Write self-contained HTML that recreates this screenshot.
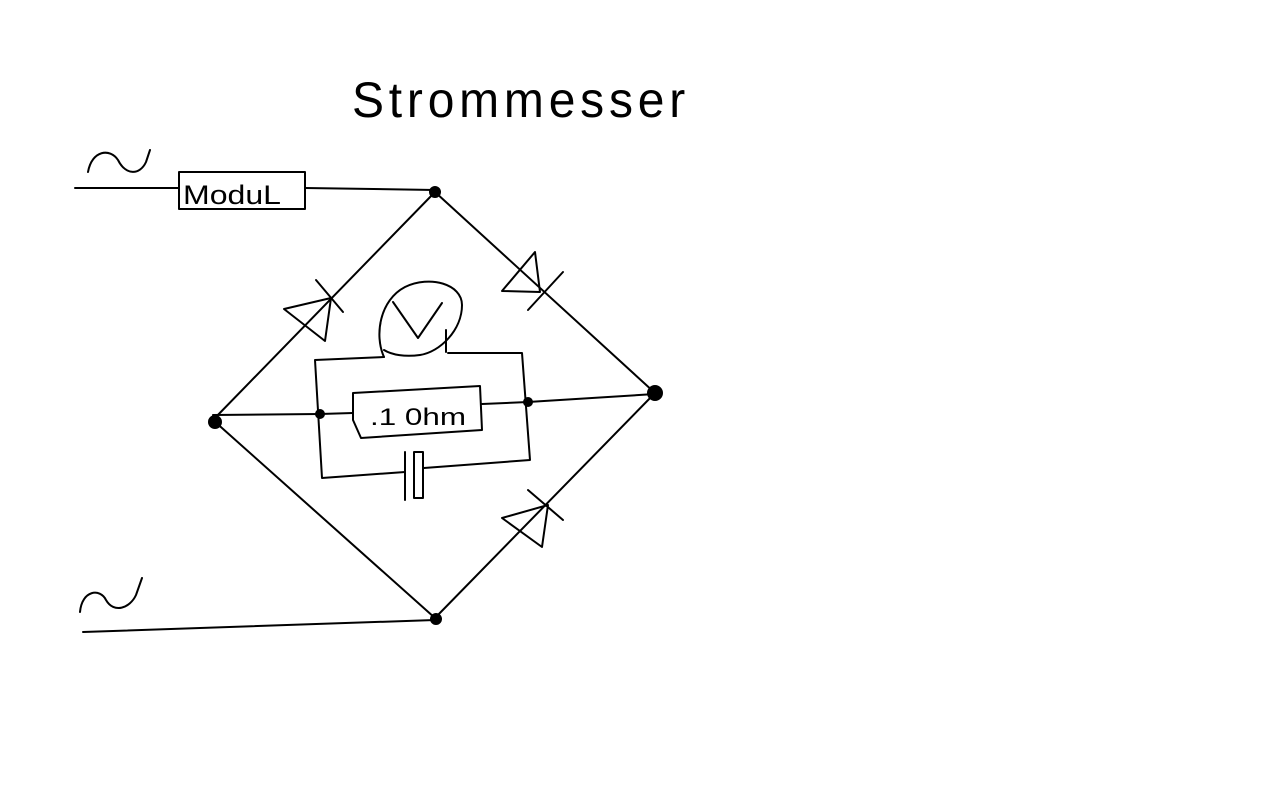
<!DOCTYPE html>
<html><head><meta charset="utf-8"><style>
html,body{margin:0;padding:0;background:#fff;width:1280px;height:800px;overflow:hidden}
svg{display:block}
</style></head><body>
<svg width="1280" height="800" viewBox="0 0 1280 800" xmlns="http://www.w3.org/2000/svg" fill="none" stroke="#000" stroke-width="2" stroke-linecap="round" stroke-linejoin="round">
<text x="352" y="117" font-family="Liberation Sans, sans-serif" font-size="50" fill="#000" stroke="none" letter-spacing="5" textLength="338" lengthAdjust="spacingAndGlyphs" font-weight="normal">Strommesser</text>
<path d="M88,172 C92,150 110,148 118,160 C126,176 140,175 146,162 L150,150"/>
<path d="M80,612 C82,590 100,588 106,600 C114,614 130,608 136,595 L142,578"/>
<line x1="75" y1="188" x2="178" y2="188"/>
<rect x="179" y="172" width="126" height="37"/>
<text x="183" y="204" font-family="Liberation Sans, sans-serif" font-size="27" fill="#000" stroke="none" textLength="98" lengthAdjust="spacingAndGlyphs">ModuL</text>
<line x1="305" y1="188" x2="435" y2="190"/>
<line x1="213" y1="420" x2="435" y2="192"/>
<line x1="435" y1="192" x2="655" y2="393"/>
<line x1="213" y1="420" x2="435" y2="618"/>
<line x1="435" y1="618" x2="655" y2="393"/>
<line x1="83" y1="632" x2="435" y2="620"/>
<circle cx="435" cy="192" r="5" fill="#000"/>
<circle cx="215" cy="422" r="6" fill="#000"/>
<circle cx="655" cy="393" r="7" fill="#000"/>
<circle cx="436" cy="619" r="5" fill="#000"/>
<circle cx="320" cy="414" r="4" fill="#000"/>
<circle cx="528" cy="402" r="4" fill="#000"/>
<polygon points="284,309 331,298 325,341"/>
<line x1="316" y1="280" x2="343" y2="312"/>
<polygon points="502,291 540,292 535,252"/>
<line x1="528" y1="310" x2="563" y2="272"/>
<polygon points="502,518 548,505 542,547"/>
<line x1="528" y1="490" x2="563" y2="520"/>
<line x1="213" y1="415" x2="320" y2="414"/>
<line x1="320" y1="414" x2="353" y2="413"/>
<path d="M353,393 L480,386 L482,430 L361,438 L353,420 Z"/>
<text x="370" y="425" font-family="Liberation Sans, sans-serif" font-size="24" fill="#000" stroke="none" textLength="96" lengthAdjust="spacingAndGlyphs">.1 0hm</text>
<line x1="482" y1="404" x2="528" y2="402"/>
<line x1="528" y1="402" x2="655" y2="394"/>
<path d="M384,357 L315,360 L322,478 L405,472"/>
<path d="M448,353 L522,353 L530,460 L424,468"/>
<line x1="405" y1="452" x2="405" y2="500"/>
<rect x="414" y="452" width="9" height="46"/>
<path d="M384,357 C374,335 380,300 405,287 C430,275 462,284 462,305 C462,330 440,352 420,355 C405,357 392,355 384,350"/>
<path d="M446,352 L446,330"/>
<path d="M393,302 L418,338 L442,303"/>
</svg>
</body></html>
